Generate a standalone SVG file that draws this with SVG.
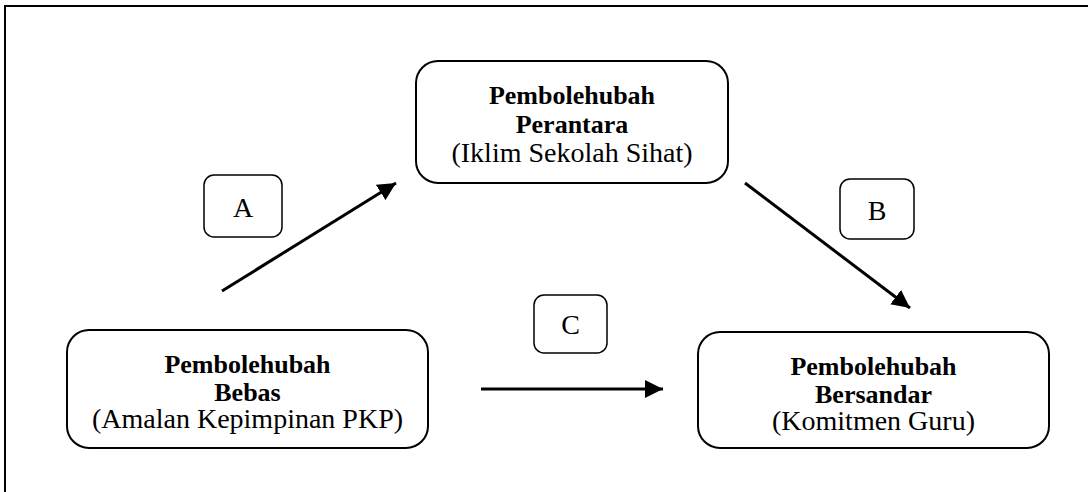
<svg xmlns="http://www.w3.org/2000/svg" width="1088" height="492" viewBox="0 0 1088 492">
  <defs>
    <marker id="arrow" viewBox="0 0 10 10" refX="10" refY="5" markerWidth="6" markerHeight="6" markerUnits="strokeWidth" orient="auto">
      <path d="M0,0 L10,5 L0,10 z" fill="#000"/>
    </marker>
    <style>
      .box { fill: #fff; stroke: #000; stroke-width: 2; }
      .lbl { fill: #fff; stroke: #000; stroke-width: 1.5; }
      .t { font-family: "Liberation Serif", "Times New Roman", serif; font-size: 28px; fill: #000; text-anchor: middle; }
      .b { font-weight: bold; font-size: 26px; }
      .conn { stroke: #000; stroke-width: 3; fill: none; marker-end: url(#arrow); }
    </style>
  </defs>
  <rect width="1088" height="492" fill="#fff"/>
  <!-- outer frame -->
  <rect x="5" y="6" width="1100" height="500" fill="none" stroke="#000" stroke-width="2"/>

  <g id="connectors">
    <line class="conn" x1="222" y1="291" x2="396" y2="183"/>
    <line class="conn" x1="745" y1="183" x2="910" y2="308"/>
    <line class="conn" x1="481" y1="389" x2="663" y2="389"/>
  </g>

  <g id="node-perantara">
    <rect class="box" x="416" y="61" width="312" height="122" rx="22"/>
    <text class="t b" x="572" y="104">Pembolehubah</text>
    <text class="t b" x="572" y="133">Perantara</text>
    <text class="t" x="572" y="162">(Iklim Sekolah Sihat)</text>
  </g>

  <g id="node-bebas">
    <rect class="box" x="67" y="330" width="361" height="118" rx="22"/>
    <text class="t b" x="247.5" y="373">Pembolehubah</text>
    <text class="t b" x="247.5" y="401">Bebas</text>
    <text class="t" x="247.5" y="428">(Amalan Kepimpinan PKP)</text>
  </g>

  <g id="node-bersandar">
    <rect class="box" x="698" y="332" width="351" height="116" rx="22"/>
    <text class="t b" x="873.5" y="375">Pembolehubah</text>
    <text class="t b" x="873.5" y="403">Bersandar</text>
    <text class="t" x="873.5" y="430">(Komitmen Guru)</text>
  </g>

  <g id="label-a">
    <rect class="lbl" x="204" y="175" width="78" height="62" rx="10"/>
    <text class="t" x="243" y="217">A</text>
  </g>
  <g id="label-b">
    <rect class="lbl" x="840" y="179" width="74" height="60" rx="10"/>
    <text class="t" x="877" y="220">B</text>
  </g>
  <g id="label-c">
    <rect class="lbl" x="534" y="295" width="73" height="58" rx="10"/>
    <text class="t" x="570.5" y="334">C</text>
  </g>
</svg>
